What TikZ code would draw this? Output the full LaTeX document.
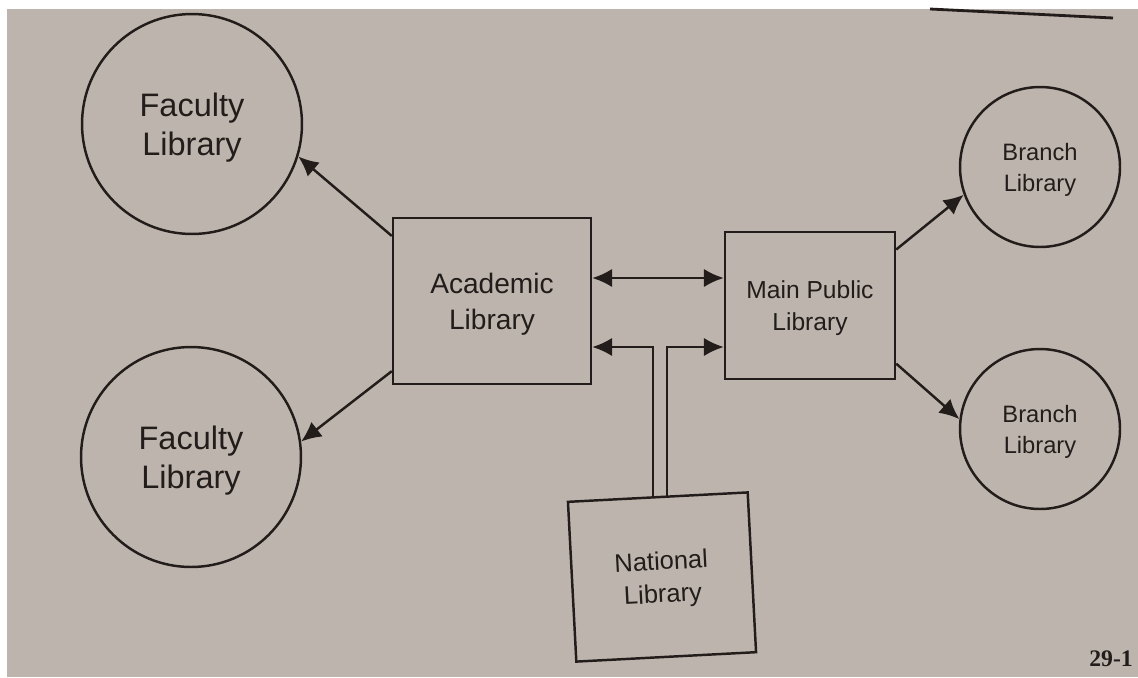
\documentclass[tikz,border=0pt]{standalone}
\usepackage{fontspec}
\setmainfont{Liberation Sans}
\newfontfamily\pagenumfont{Liberation Serif}
\usepackage{xcolor}
\usetikzlibrary{arrows.meta}
\definecolor{paper}{RGB}{189,181,173}
\definecolor{ink}{RGB}{34,28,26}

\begin{document}
\begin{tikzpicture}[x=0.02cm,y=-0.02cm,color=ink,line width=1.4pt,
  >={Latex[length=4mm,width=3.7mm]},
  faculty/.style={draw,circle,minimum size=4.4cm,inner sep=0pt,align=center,text depth=0pt,font=\fontsize{18.5}{22.5}\selectfont},
  branch/.style={draw,circle,minimum size=3.2cm,inner sep=0pt,align=center,text depth=0pt,font=\fontsize{13.5}{17.6}\selectfont},
  libbox/.style={draw,rectangle,inner sep=0pt,align=center,text depth=0pt}]
  \useasboundingbox (0,0) rectangle (1138,677);
  \fill[white] (0,0) rectangle (1138,677);
  \fill[paper] (7,9) rectangle (1138,677);
  \draw[line width=1.6pt] (930,9) -- (1113,18);

  \node[faculty] (faculty1) at (192,124) {Faculty\\Library};
  \node[faculty] (faculty2) at (191,457) {Faculty\\Library};

  \node[libbox,minimum width=3.96cm,minimum height=3.32cm,font=\fontsize{16}{20.5}\selectfont] (academic) at (492,301) {Academic\\Library};
  \node[libbox,minimum width=3.4cm,minimum height=2.94cm,font=\fontsize{14}{18.2}\selectfont] (mainpublic) at (810,305.5) {Main Public\\Library};
  \node[libbox,rotate=3,minimum width=3.6cm,minimum height=3.2cm,font=\fontsize{14.5}{18.8}\selectfont] (national) at (662,577) {National\\Library};

  \node[branch] (branch1) at (1040,167) {Branch\\Library};
  \node[branch] (branch2) at (1040,429) {Branch\\Library};

  \path [->] (academic.147) edge (faculty1.-17);
  \path [->] (academic.215) edge (faculty2.8);
  \path [->] (mainpublic.33) edge (branch1.200);
  \path [->] (mainpublic.-34) edge (branch2.173);

  \coordinate (linkup) at (658,278);
  \coordinate (linkleft) at (653,347);
  \coordinate (linkright) at (667,347);
  \path [<->] (academic.east |- linkup) edge (mainpublic.west |- linkup);
  \draw [->] (national.north -| linkleft) |- (academic.east |- linkleft);
  \draw [->] (national.north -| linkright) |- (mainpublic.west |- linkright);

  \node[font=\pagenumfont\bfseries\fontsize{13.5}{16}\selectfont] (pagenum) at (1111,659) {29-1};
\end{tikzpicture}
\end{document}
